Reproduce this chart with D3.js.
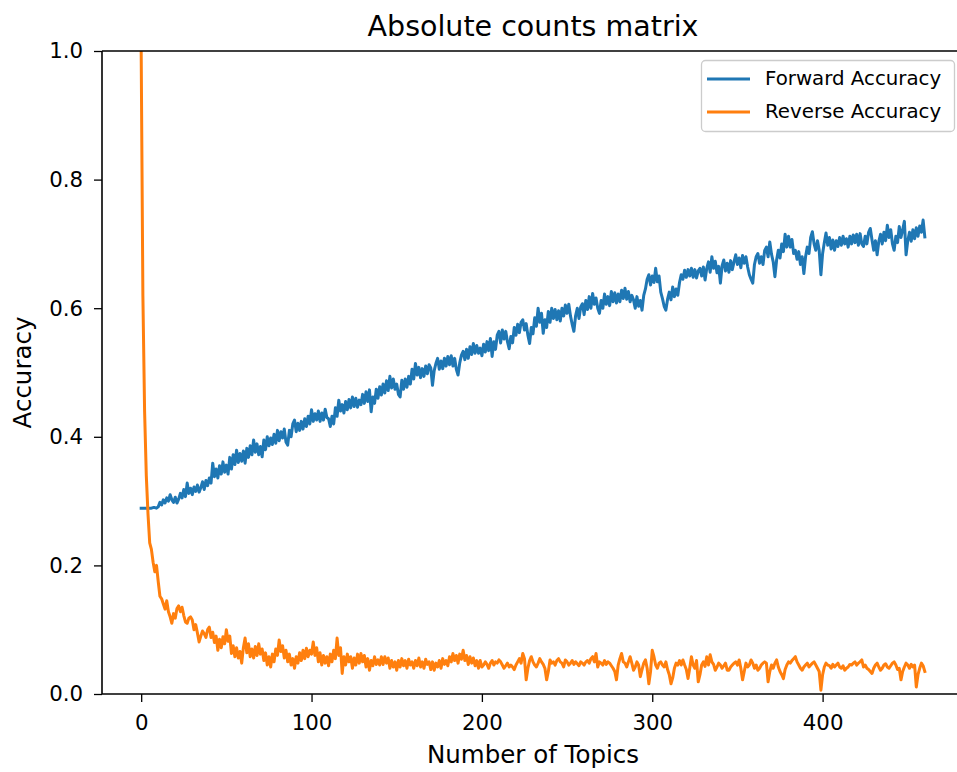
<!DOCTYPE html>
<html><head><meta charset="utf-8">
<script src="https://cdn.jsdelivr.net/npm/d3@7"></script>
<style>body{margin:0;background:#fff;overflow:hidden}svg{display:block;font-family:"DejaVu Sans",sans-serif}</style>
</head><body><div id="chart"></div>
<script>
const title = "Absolute counts matrix";
const xLabel = "Number of Topics";
const yLabel = "Accuracy";
const seriesNames = ["Forward Accuracy", "Reverse Accuracy"];
const xTicks = [0, 100, 200, 300, 400];
const yTicks = [0.0, 0.2, 0.4, 0.6, 0.8, 1.0];

// one value per topic count, starting at 0
const forward = [
.289,.289,.289,.289,.289,.289,.289,.290,.290,.289,
.291,.298,.294,.302,.297,.305,.300,.310,.302,.298,
.306,.297,.303,.312,.305,.318,.307,.328,.312,.320,
.310,.322,.315,.325,.314,.321,.330,.318,.332,.324,
.336,.328,.359,.338,.350,.336,.355,.342,.361,.345,
.356,.342,.368,.350,.372,.357,.379,.360,.374,.362,
.378,.359,.382,.368,.386,.372,.395,.376,.389,.372,
.385,.369,.395,.380,.400,.386,.398,.388,.404,.390,
.410,.394,.408,.398,.412,.392,.387,.410,.400,.420,
.426,.408,.421,.410,.424,.412,.428,.416,.432,.420,
.442,.424,.436,.426,.440,.424,.437,.426,.443,.430,
.428,.416,.432,.420,.445,.432,.457,.440,.450,.437,
.455,.442,.458,.445,.462,.447,.460,.446,.457,.450,
.466,.452,.470,.455,.473,.439,.462,.452,.474,.460,
.478,.465,.482,.468,.487,.472,.494,.476,.490,.474,
.482,.466,.462,.488,.474,.490,.477,.494,.482,.505,
.490,.514,.496,.508,.492,.506,.494,.510,.498,.512,
.507,.480,.503,.514,.522,.505,.518,.506,.522,.510,
.525,.512,.526,.510,.522,.505,.496,.515,.527,.533,
.520,.536,.522,.540,.528,.545,.530,.542,.530,.538,
.526,.544,.532,.548,.534,.553,.525,.548,.536,.558,
.564,.546,.566,.552,.564,.548,.537,.556,.546,.570,
.558,.575,.562,.578,.582,.566,.576,.558,.545,.570,
.560,.585,.572,.600,.578,.592,.561,.582,.570,.595,
.578,.600,.584,.598,.582,.596,.580,.600,.588,.605,
.592,.606,.588,.575,.564,.588,.600,.584,.602,.607,
.590,.612,.598,.618,.600,.623,.606,.616,.600,.592,
.612,.600,.622,.606,.618,.604,.626,.610,.624,.608,
.622,.610,.628,.615,.631,.614,.626,.610,.620,.613,
.600,.618,.603,.612,.597,.620,.630,.645,.652,.636,
.650,.640,.662,.641,.650,.625,.615,.603,.597,.614,
.625,.613,.633,.618,.630,.620,.640,.652,.645,.659,
.648,.660,.650,.662,.648,.660,.647,.658,.662,.650,
.664,.644,.662,.672,.656,.680,.662,.673,.655,.665,
.639,.666,.675,.658,.670,.656,.674,.660,.672,.683,
.668,.678,.663,.682,.670,.680,.664,.652,.645,.639,
.668,.680,.685,.670,.680,.668,.690,.695,.680,.703,
.684,.672,.649,.675,.690,.678,.700,.688,.715,.695,
.712,.695,.707,.685,.690,.676,.688,.668,.680,.654,
.680,.695,.685,.710,.719,.700,.690,.705,.690,.652,
.685,.702,.717,.698,.710,.692,.706,.690,.705,.696,
.710,.698,.712,.700,.708,.695,.712,.700,.714,.702,
.715,.698,.716,.700,.696,.712,.700,.718,.724,.706,
.690,.705,.683,.704,.715,.700,.718,.705,.729,.710,
.722,.700,.690,.712,.702,.727,.710,.722,.735,.683,
.705,.718,.704,.722,.708,.725,.712,.728,.718,.737,
.711];

const reverse = [
1.00,.620,.440,.340,.280,.235,.225,.205,.190,.200,
.175,.152,.148,.140,.132,.145,.128,.120,.110,.125,
.118,.133,.137,.128,.135,.122,.112,.110,.118,.120,
.115,.100,.108,.095,.081,.090,.098,.094,.088,.100,
.104,.088,.096,.080,.090,.068,.085,.072,.089,.078,
.100,.082,.090,.063,.075,.058,.072,.056,.066,.048,
.072,.087,.064,.078,.058,.070,.056,.074,.060,.078,
.062,.070,.052,.064,.045,.058,.042,.062,.050,.070,
.060,.084,.066,.075,.056,.068,.050,.062,.045,.055,
.040,.058,.048,.064,.052,.068,.055,.071,.058,.068,
.062,.081,.060,.072,.050,.064,.045,.060,.048,.058,
.044,.062,.050,.068,.055,.087,.060,.072,.032,.058,
.045,.062,.050,.058,.040,.056,.045,.062,.048,.063,
.050,.060,.042,.055,.037,.052,.044,.058,.046,.053,
.045,.058,.046,.058,.048,.056,.040,.052,.042,.050,
.037,.052,.042,.055,.044,.052,.040,.054,.045,.050,
.040,.052,.044,.056,.042,.050,.040,.054,.046,.050,
.038,.050,.037,.048,.042,.052,.040,.055,.046,.052,
.044,.058,.050,.063,.052,.060,.048,.062,.054,.068,
.052,.060,.046,.058,.048,.056,.044,.052,.040,.052,
.042,.045,.050,.046,.040,.048,.052,.045,.050,.048,
.053,.050,.045,.040,.044,.048,.042,.045,.042,.038,
.045,.050,.055,.048,.063,.055,.022,.040,.052,.058,
.050,.045,.042,.048,.055,.050,.046,.040,.022,.035,
.053,.048,.050,.045,.052,.055,.050,.048,.042,.053,
.050,.045,.048,.052,.046,.050,.047,.044,.050,.048,
.045,.050,.052,.048,.055,.058,.050,.063,.042,.050,
.048,.045,.052,.046,.050,.048,.044,.040,.035,.022,
.045,.055,.063,.050,.048,.042,.050,.058,.048,.037,
.042,.050,.045,.027,.038,.048,.053,.040,.016,.035,
.068,.058,.045,.040,.048,.050,.045,.042,.050,.038,
.030,.016,.025,.040,.048,.045,.052,.045,.053,.045,
.038,.024,.040,.058,.045,.040,.052,.019,.030,.045,
.050,.043,.058,.045,.061,.050,.046,.037,.042,.048,
.045,.040,.044,.048,.037,.037,.042,.045,.048,.050,
.045,.053,.040,.022,.035,.048,.042,.045,.053,.048,
.040,.045,.037,.040,.045,.048,.050,.048,.019,.035,
.045,.040,.048,.053,.042,.035,.030,.024,.038,.045,
.050,.048,.052,.055,.058,.050,.045,.040,.037,.042,
.045,.048,.042,.045,.048,.050,.045,.040,.035,.006,
.030,.042,.048,.045,.044,.040,.046,.042,.045,.048,
.042,.040,.044,.037,.040,.042,.046,.045,.048,.050,
.045,.048,.050,.053,.042,.045,.040,.038,.035,.032,
.040,.045,.048,.042,.037,.040,.045,.047,.042,.040,
.044,.048,.050,.045,.038,.040,.022,.035,.042,.048,
.045,.040,.046,.042,.045,.011,.030,.040,.048,.044,
.035];

const colors = ["#1f77b4", "#ff7f0e"];
const W = 957, H = 772;
const m = {left: 102, right: 964, top: 51, bottom: 694};

const svg = d3.select("#chart").append("svg").attr("width", W).attr("height", H)
  .attr("viewBox", `0 0 ${W} ${H}`).style("overflow", "hidden");

const nMax = Math.max(forward.length, reverse.length) - 1;
const pad = nMax * 0.05;
const x = d3.scaleLinear().domain([-pad, nMax + pad]).range([m.left, m.right]);
const y = d3.scaleLinear().domain([0, 1]).range([m.bottom, m.top]);

svg.append("clipPath").attr("id", "clip").append("rect")
  .attr("x", m.left).attr("y", m.top).attr("width", m.right - m.left).attr("height", m.bottom - m.top);

const line = d3.line().x((d, i) => x(i)).y(d => y(d));
const g = svg.append("g").attr("clip-path", "url(#clip)");
[forward, reverse].forEach((s, k) => {
  g.append("path").datum(s).attr("d", line)
    .attr("fill", "none").attr("stroke", colors[k]).attr("stroke-width", 3)
    .attr("stroke-linejoin", "round").attr("stroke-linecap", "square");
});

// axes
const tickFont = "21.3px";
const xAxis = d3.axisBottom(x).tickValues(xTicks).tickFormat(d3.format("d")).tickSizeOuter(0).tickSize(8).tickPadding(13);
const yAxis = d3.axisLeft(y).tickValues(yTicks).tickFormat(d3.format(".1f")).tickSizeOuter(0).tickSize(8).tickPadding(11);
const gx = svg.append("g").attr("transform", `translate(0,${m.bottom})`).call(xAxis);
const gy = svg.append("g").attr("transform", `translate(${m.left},0)`).call(yAxis);
[gx, gy].forEach(a => {
  a.select(".domain").remove();
  a.selectAll(".tick line").attr("stroke", "#000").attr("stroke-width", 1.3);
  a.selectAll(".tick text").attr("fill", "#000").style("font-size", tickFont).style("font-family", "DejaVu Sans");
});

// spines: left, top, bottom (the right spine falls outside the picture)
const sp = svg.append("g").attr("stroke", "#000").attr("stroke-width", 1.6);
sp.append("line").attr("x1", m.left).attr("x2", m.left).attr("y1", m.top).attr("y2", m.bottom);
sp.append("line").attr("x1", m.left).attr("x2", W).attr("y1", m.top).attr("y2", m.top);
sp.append("line").attr("x1", m.left).attr("x2", W).attr("y1", m.bottom).attr("y2", m.bottom);

// labels
svg.append("text").attr("x", (m.left + m.right) / 2).attr("y", 36).attr("text-anchor", "middle")
  .style("font-size", "28.5px").attr("fill", "#000").text(title);
svg.append("text").attr("x", (m.left + m.right) / 2).attr("y", 763).attr("text-anchor", "middle")
  .style("font-size", "24.5px").attr("fill", "#000").text(xLabel);
svg.append("text").attr("transform", `translate(31,${(m.top + m.bottom) / 2}) rotate(-90)`).attr("text-anchor", "middle")
  .style("font-size", "24.5px").attr("fill", "#000").text(yLabel);

// legend
const lg = svg.append("g");
lg.append("rect").attr("x", 701.5).attr("y", 60.5).attr("width", 253).attr("height", 71).attr("rx", 4)
  .attr("fill", "#fff").attr("fill-opacity", 0.8).attr("stroke", "#cccccc").attr("stroke-width", 1.3);
seriesNames.forEach((name, k) => {
  const ly = 79 + k * 33;
  lg.append("line").attr("x1", 707).attr("x2", 750).attr("y1", ly).attr("y2", ly)
    .attr("stroke", colors[k]).attr("stroke-width", 3);
  lg.append("text").attr("x", 765).attr("y", ly + 6).style("font-size", "19.8px").attr("fill", "#000").text(name);
});

// keep the empty strip at the right edge of the plot area blank
svg.append("rect").attr("x", 946).attr("y", 140).attr("width", 11).attr("height", 550).attr("fill", "#fff");
</script></body></html>
